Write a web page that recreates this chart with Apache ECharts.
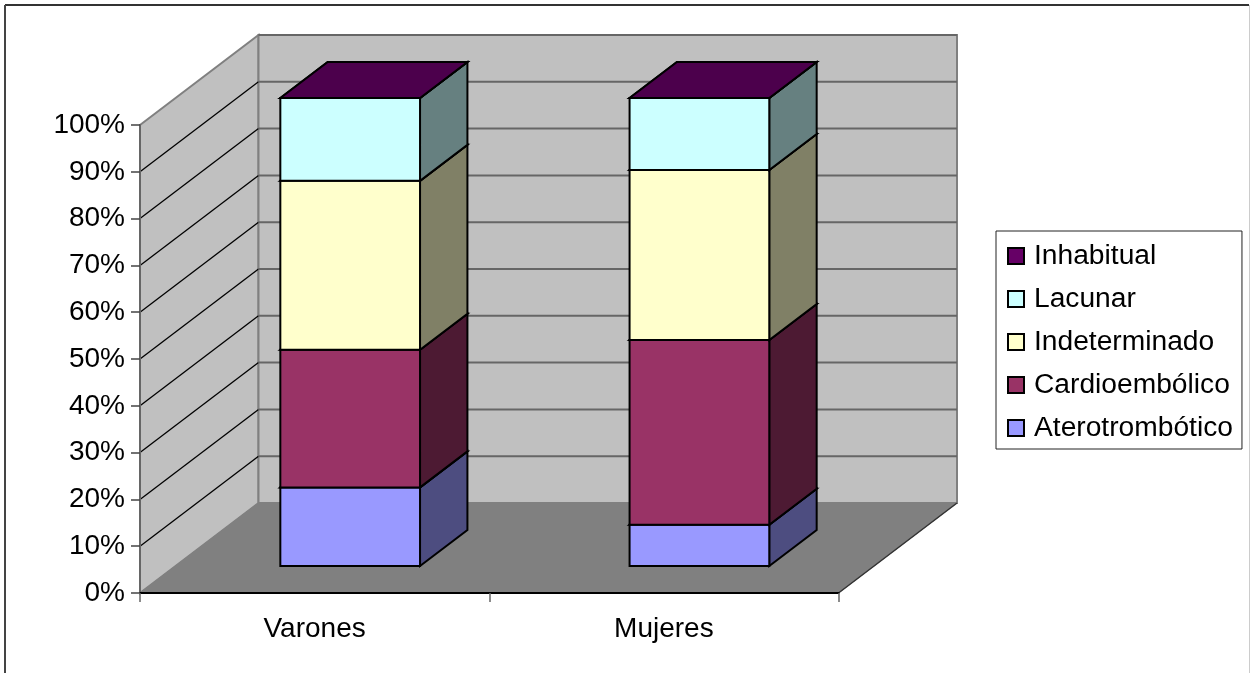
<!DOCTYPE html>
<html>
<head>
<meta charset="utf-8">
<title>Tipos de ictus por sexo</title>
<style>
  html, body { margin: 0; padding: 0; background: #ffffff; }
  #chart { width: 1250px; height: 673px; }
</style>
<script src="https://cdn.jsdelivr.net/npm/echarts@6/dist/echarts.min.js"></script>
</head>
<body>
<div id="chart"></div>
<script>
// Percentage of each stroke type, by sex
const categories = ['Varones', 'Mujeres'];
const aterotrombotico = [16.8, 8.8];
const cardioembolico = [29.4, 39.5];
const indeterminado = [36.1, 36.3];
const lacunar = [17.7, 15.4];
const inhabitual = [0, 0];
const yTicks = [0, 10, 20, 30, 40, 50, 60, 70, 80, 90, 100];

const stackNames = ['Aterotrombótico', 'Cardioembólico', 'Indeterminado', 'Lacunar', 'Inhabitual'];
const stackValues = [aterotrombotico, cardioembolico, indeterminado, lacunar, inhabitual];
const frontColors = ['#9999FF', '#993366', '#FFFFCC', '#CCFFFF', '#660066'];
const sideColors = ['#4D4D80', '#4D1A33', '#808066', '#668080', '#330033'];
const topColors = ['#7A7ACC', '#7A2952', '#CCCCA3', '#A3CCCC', '#4C004C'];

// Oblique projection of the depth axis, in pixels
const DEPTH_X = 118.5;
const DEPTH_Y = -90;
const BAR_WIDTH_RATIO = 0.4;
const BAR_DEPTH_START = 0.3;
const BAR_DEPTH_END = 0.7;
const LABEL_FONT = '"Liberation Sans", Arial, sans-serif';

function shifted(pt, d) {
  return [pt[0] + DEPTH_X * d, pt[1] + DEPTH_Y * d];
}

function poly(points, fill, stroke, lineWidth) {
  return {
    type: 'polygon',
    shape: { points: points },
    style: { fill: fill, stroke: stroke, lineWidth: lineWidth, lineJoin: 'miter' }
  };
}

function segment(a, b, stroke, lineWidth) {
  return {
    type: 'line',
    shape: { x1: a[0], y1: a[1], x2: b[0], y2: b[1] },
    style: { stroke: stroke, lineWidth: lineWidth }
  };
}

// Back wall, side wall and floor of the box
function renderRoom(params, api) {
  const band = api.size([1, 0])[0];
  const half = band / 2;
  const c0 = api.coord([0, 0]);
  const c1 = api.coord([categories.length - 1, 0]);
  const t0 = api.coord([0, 100]);
  const fl = [c0[0] - half, c0[1]];
  const fr = [c1[0] + half, c1[1]];
  const tl = [t0[0] - half, t0[1]];
  const bl = shifted(fl, 1);
  const br = shifted(fr, 1);
  const tbl = shifted(tl, 1);
  const tbr = [br[0], tbl[1]];
  return {
    type: 'group',
    children: [
      poly([tl, tbl, bl, fl], '#C0C0C0', '#808080', 2),
      poly([tbl, tbr, br, bl], '#C0C0C0', '#808080', 2),
      poly([fl, bl, br, fr], '#808080', '#808080', 1),
      segment(fr, br, '#333333', 1.5)
    ]
  };
}

// One gridline per tick, running along the side wall and across the back wall
function renderGridline(params, api) {
  const v = api.value(0);
  if (v === 0) {
    return { type: 'group', children: [] };
  }
  const band = api.size([1, 0])[0];
  const half = band / 2;
  const c0 = api.coord([0, v]);
  const c1 = api.coord([categories.length - 1, v]);
  const a = [c0[0] - half, c0[1]];
  const b = shifted(a, 1);
  const e = shifted([c1[0] + half, c1[1]], 1);
  const children = [];
  if (v < 100) {
    children.push(segment(a, b, '#000000', 1.3));
  }
  children.push(segment(b, e, '#666666', 2));
  return { type: 'group', children: children };
}

// A stacked box: side and top faces sit behind the front face
function makeBoxRenderer(index) {
  return function (params, api) {
    const cat = api.value(0);
    const base = api.value(1);
    const end = api.value(2);
    const w = api.size([1, 0])[0] * BAR_WIDTH_RATIO / 2;
    const lo = shifted(api.coord([cat, base]), BAR_DEPTH_START);
    const hi = shifted(api.coord([cat, end]), BAR_DEPTH_START);
    const fbl = [lo[0] - w, lo[1]];
    const fbr = [lo[0] + w, lo[1]];
    const ftl = [hi[0] - w, hi[1]];
    const ftr = [hi[0] + w, hi[1]];
    const span = BAR_DEPTH_END - BAR_DEPTH_START;
    const bbr = shifted(fbr, span);
    const btr = shifted(ftr, span);
    const btl = shifted(ftl, span);
    return {
      type: 'group',
      children: [
        poly([fbr, bbr, btr, ftr], sideColors[index], '#000000', 2),
        poly([ftl, btl, btr, ftr], topColors[index], '#000000', 2),
        poly([fbl, fbr, ftr, ftl], frontColors[index], '#000000', 2)
      ]
    };
  };
}

const boxSeries = stackNames.map(function (name, i) {
  return {
    name: name,
    type: 'custom',
    coordinateSystem: 'cartesian2d',
    renderItem: makeBoxRenderer(i),
    encode: { x: 0, y: [1, 2] },
    itemStyle: { color: frontColors[i] },
    z: 3,
    data: categories.map(function (cat, c) {
      let base = 0;
      for (let k = 0; k < i; k++) {
        base += stackValues[k][c];
      }
      return [cat, base, base + stackValues[i][c]];
    })
  };
});

const chart = echarts.init(document.getElementById('chart'), null, { renderer: 'canvas' });

chart.setOption({
  animation: false,
  backgroundColor: '#ffffff',
  textStyle: { fontFamily: LABEL_FONT },
  grid: { left: 140, top: 125, width: 698.5, height: 468 },
  xAxis: {
    type: 'category',
    data: categories,
    z: 5,
    axisLine: { lineStyle: { color: '#000000', width: 2 } },
    axisTick: { show: true, length: 9, lineStyle: { color: '#666666', width: 1.5 } },
    axisLabel: { color: '#000000', fontSize: 28, margin: 22, fontFamily: LABEL_FONT },
    splitLine: { show: false }
  },
  yAxis: {
    type: 'value',
    min: 0,
    max: 100,
    interval: 10,
    z: 5,
    axisLine: { show: true, lineStyle: { color: '#666666', width: 2 } },
    axisTick: { show: true, length: 9, lineStyle: { color: '#444444', width: 1.5 } },
    axisLabel: { color: '#000000', fontSize: 28, margin: 15, padding: [2, 0, 0, 0], formatter: '{value}%', fontFamily: LABEL_FONT },
    splitLine: { show: false }
  },
  legend: {
    left: 996,
    top: 231,
    orient: 'vertical',
    align: 'left',
    data: stackNames.slice().reverse(),
    backgroundColor: '#ffffff',
    borderColor: '#222222',
    borderWidth: 1,
    borderRadius: 0,
    padding: [11, 9, 7, 11],
    itemGap: 15,
    itemWidth: 16,
    itemHeight: 16,
    icon: 'rect',
    selectedMode: false,
    itemStyle: { borderColor: '#000000', borderWidth: 2 },
    textStyle: { color: '#000000', fontSize: 28.2, padding: [0, 0, 0, 5], fontFamily: LABEL_FONT }
  },
  graphic: [
    { type: 'line', silent: true, shape: { x1: 5, y1: 5, x2: 1249, y2: 5 }, style: { stroke: '#333333', lineWidth: 2 } },
    { type: 'line', silent: true, shape: { x1: 5, y1: 5, x2: 5, y2: 673 }, style: { stroke: '#444444', lineWidth: 2 } },
    { type: 'line', silent: true, shape: { x1: 1249.5, y1: 5, x2: 1249.5, y2: 673 }, style: { stroke: '#CCCCCC', lineWidth: 1 } }
  ],
  series: [
    {
      name: 'room',
      type: 'custom',
      coordinateSystem: 'cartesian2d',
      silent: true,
      z: 1,
      renderItem: renderRoom,
      data: [[0]]
    },
    {
      name: 'gridlines',
      type: 'custom',
      coordinateSystem: 'cartesian2d',
      silent: true,
      z: 2,
      renderItem: renderGridline,
      encode: { y: 0 },
      data: yTicks.map(function (t) { return [t]; })
    }
  ].concat(boxSeries)
});
</script>
</body>
</html>
